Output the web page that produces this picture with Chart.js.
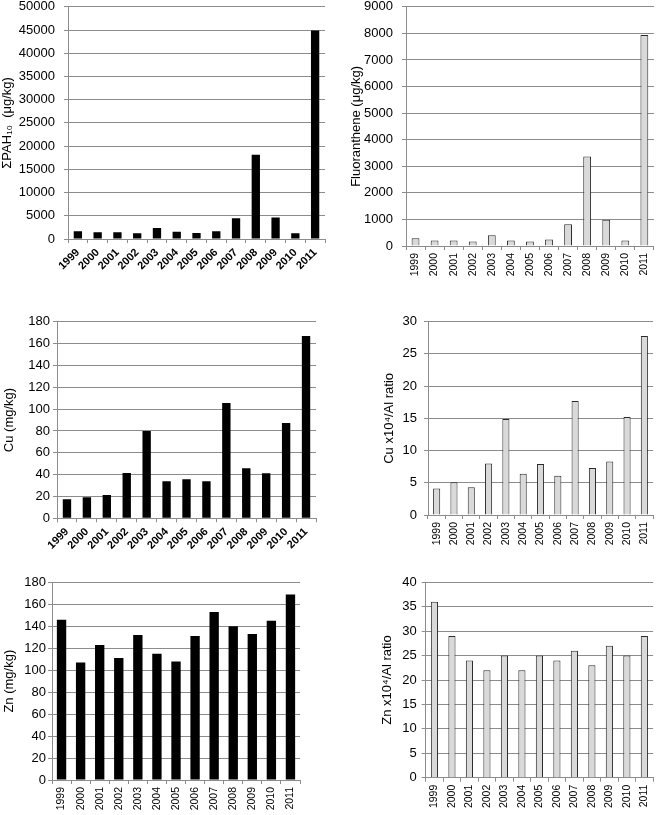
<!DOCTYPE html>
<html>
<head>
<meta charset="utf-8">
<script src="https://cdn.jsdelivr.net/npm/chart.js@4.4.0/dist/chart.umd.min.js"></script>
<style>
    html, body { margin: 0; padding: 0; background: #fff; overflow: hidden; }
    body { width: 660px; height: 815px; position: relative; }
    canvas { position: absolute; }
</style>
</head>
<body>
<canvas id="chartPah"></canvas>
<canvas id="chartFluor"></canvas>
<canvas id="chartCu"></canvas>
<canvas id="chartCuRatio"></canvas>
<canvas id="chartZn"></canvas>
<canvas id="chartZnRatio"></canvas>
<script>
// Datos
const years = ['1999', '2000', '2001', '2002', '2003', '2004', '2005', '2006', '2007', '2008', '2009', '2010', '2011'];
const pahValues = [1650, 1430, 1430, 1220, 2350, 1560, 1280, 1650, 4490, 18160, 4630, 1220, 44870];
const fluorantheneValues = [290, 210, 210, 170, 400, 210, 170, 240, 820, 3370, 990, 210, 7940];
const cuValues = [17.4, 19.2, 21.3, 41.5, 80, 33.9, 35.7, 33.9, 105.6, 45.8, 41.2, 87.3, 167];
const cuRatioValues = [4.1, 5.1, 4.3, 8.0, 14.9, 6.4, 7.9, 6.1, 17.7, 7.3, 8.3, 15.2, 27.8];
const znValues = [146, 107, 123, 111, 132, 115, 108, 131, 153, 140, 133, 145, 169];
const znRatioValues = [36, 29, 24, 22, 25, 22, 25, 24, 26, 23, 27, 25, 29];

// Escalas (max, paso)
const pahTicks = [50000, 5000];
const fluorTicks = [9000, 1000];
const cuTicks = [180, 20];
const cuRatioTicks = [30, 5];
const znTicks = [180, 20];
const znRatioTicks = [40, 5];

Chart.defaults.font.family = '"Liberation Sans", Arial, sans-serif';
Chart.defaults.color = '#000';

const gris = '#8c8c8c';

function crearGrafico(id, caja, valores, escala, conf) {
    const canvas = document.getElementById(id);
    canvas.width = caja.w;
    canvas.height = caja.h;
    canvas.style.left = caja.left + 'px';
    canvas.style.top = caja.top + 'px';

    new Chart(canvas, {
        type: 'bar',
        data: {
            labels: years,
            datasets: [{
                data: valores,
                backgroundColor: conf.relleno,
                borderColor: conf.borde,
                borderWidth: conf.anchoBorde,
                barPercentage: conf.barra,
                categoryPercentage: 1
            }]
        },
        options: {
            responsive: false,
            animation: false,
            layout: {
                padding: {
                    top: caja.arriba - caja.top,
                    right: caja.left + caja.w - caja.derecha,
                    left: 0,
                    bottom: 0
                }
            },
            plugins: {
                legend: { display: false },
                tooltip: { enabled: false }
            },
            scales: {
                x: {
                    grid: { offset: true, drawOnChartArea: false, color: gris, tickLength: 4 },
                    border: { color: gris },
                    ticks: {
                        autoSkip: false,
                        minRotation: conf.rotacion,
                        maxRotation: conf.rotacion,
                        padding: conf.padX,
                        font: { size: conf.negrita ? 11 : 10.5, weight: conf.negrita ? 'bold' : 'normal' }
                    },
                    afterFit: s => { s.height = caja.top + caja.h - caja.cero; }
                },
                y: {
                    min: 0,
                    max: escala[0],
                    grid: { color: gris, tickLength: 4 },
                    border: { color: gris },
                    ticks: {
                        stepSize: escala[1],
                        padding: conf.padY,
                        font: { size: 13 },
                        callback: v => String(v)
                    },
                    title: {
                        display: true,
                        text: conf.titulo,
                        font: { size: 13 },
                        padding: { top: conf.padTitulo, bottom: 0 }
                    },
                    afterFit: s => { s.width = caja.eje - caja.left; }
                }
            }
        }
    });
}

const negro = { relleno: '#000', borde: '#000', anchoBorde: 0 };
const claro = { relleno: '#d9d9d9', borde: '#2a2a2a', anchoBorde: 1 };

crearGrafico('chartPah',
    { left: 0, top: -10, w: 330, h: 285, eje: 68, arriba: 5, cero: 239, derecha: 325 },
    pahValues, pahTicks,
    Object.assign({}, negro, { barra: 0.42, rotacion: 45, negrita: true, padX: 3, padY: 9, padTitulo: 0, titulo: 'ΣPAH₁₀  (μg/kg)' }));

crearGrafico('chartFluor',
    { left: 330, top: -10, w: 330, h: 290, eje: 406, arriba: 5, cero: 246, derecha: 659 },
    fluorantheneValues, fluorTicks,
    Object.assign({}, claro, { barra: 0.41, rotacion: 90, negrita: false, padX: 3, padY: 9, padTitulo: 19, titulo: 'Fluoranthene (μg/kg)' }));

crearGrafico('chartCu',
    { left: 0, top: 305, w: 330, h: 250, eje: 57, arriba: 321.7, cero: 518.3, derecha: 316 },
    cuValues, cuTicks,
    Object.assign({}, negro, { barra: 0.42, rotacion: 45, negrita: true, padX: 3, padY: 3, padTitulo: 2, titulo: 'Cu (mg/kg)' }));

crearGrafico('chartCuRatio',
    { left: 330, top: 305, w: 330, h: 250, eje: 428, arriba: 321.7, cero: 515, derecha: 659 },
    cuRatioValues, cuRatioTicks,
    Object.assign({}, claro, { barra: 0.41, rotacion: 90, negrita: false, padX: 3, padY: 7, padTitulo: 52, titulo: 'Cu x10⁴/Al ratio' }));

crearGrafico('chartZn',
    { left: 0, top: 565, w: 330, h: 250, eje: 52, arriba: 582.3, cero: 780, derecha: 300 },
    znValues, znTicks,
    Object.assign({}, negro, { barra: 0.49, rotacion: 90, negrita: false, padX: 3, padY: 2, padTitulo: 2, titulo: 'Zn (mg/kg)' }));

crearGrafico('chartZnRatio',
    { left: 330, top: 565, w: 330, h: 250, eje: 425.7, arriba: 582.3, cero: 777.7, derecha: 659 },
    znRatioValues, znRatioTicks,
    Object.assign({}, claro, { barra: 0.41, rotacion: 90, negrita: false, padX: 3, padY: 5, padTitulo: 50, titulo: 'Zn x10⁴/Al ratio' }));
</script>
</body>
</html>
